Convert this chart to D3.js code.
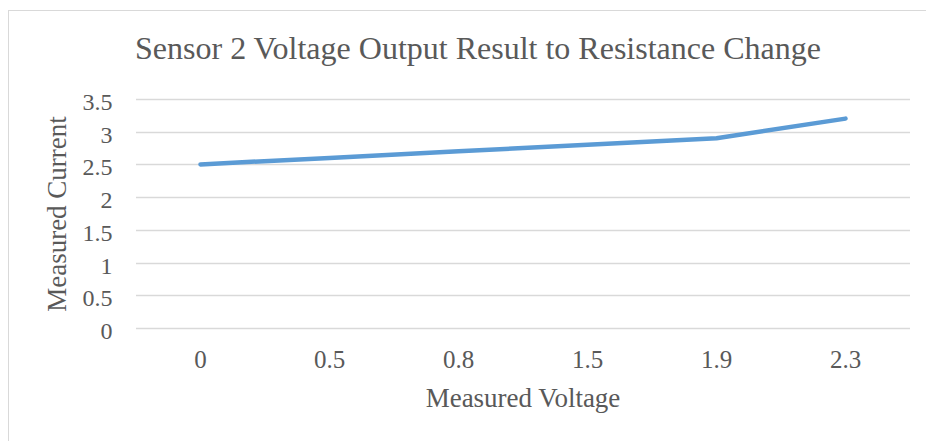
<!DOCTYPE html>
<html><head><meta charset="utf-8">
<script src="https://cdn.jsdelivr.net/npm/d3@7"></script>
<style>body{margin:0;background:#fff}svg{display:block}</style>
</head><body>
<svg id="c" width="926" height="441"></svg>
<script>
const categories = ["0", "0.5", "0.8", "1.5", "1.9", "2.3"];
const values = [2.5, 2.6, 2.7, 2.8, 2.9, 3.2];
const yTicks = [0, 0.5, 1, 1.5, 2, 2.5, 3, 3.5];
const title = "Sensor 2 Voltage Output Result to Resistance Change";
const xTitle = "Measured Voltage";
const yTitle = "Measured Current";

const svg = d3.select("#c");
const font = "'Liberation Serif','Times New Roman',serif";
const txt = "#595959";
svg.append("rect").attr("x", 8.5).attr("y", 10.5).attr("width", 930).attr("height", 440)
  .attr("fill", "#fff").attr("stroke", "#d9d9d9");

const x = d3.scaleBand().domain(categories).range([136, 910]);
const y = d3.scaleLinear().domain([0, 3.5]).range([328, 99]);

const grid = svg.append("g");
grid.selectAll("line").data(yTicks).join("line")
  .attr("x1", 136).attr("x2", 910)
  .attr("y1", d => Math.round(y(d)) + 0.5).attr("y2", d => Math.round(y(d)) + 0.5)
  .attr("stroke", "#d9d9d9").attr("stroke-width", 1.3);

const yAxis = d3.axisLeft(y).tickValues(yTicks).tickSize(0).tickPadding(0).tickFormat(d => String(d));
const ya = svg.append("g").attr("transform", "translate(112.5,0)").call(yAxis);
ya.select(".domain").remove();
ya.selectAll("text").attr("font-family", font).attr("font-size", 24).attr("fill", txt).attr("dy", "0.44em");

const xAxis = d3.axisBottom(x).tickSize(0).tickPadding(0);
const xa = svg.append("g").attr("transform", "translate(0,368)").call(xAxis);
xa.select(".domain").remove();
xa.selectAll("text").attr("font-family", font).attr("font-size", 25).attr("fill", txt).attr("dy", "0");

const line = d3.line().x(d => x(d.c) + x.bandwidth() / 2).y(d => y(d.v));
svg.append("path").datum(categories.map((c, i) => ({c, v: values[i]})))
  .attr("d", line).attr("fill", "none").attr("stroke", "#5B9BD5")
  .attr("stroke-width", 4.5).attr("stroke-linecap", "round").attr("stroke-linejoin", "round");

svg.append("text").attr("x", 478).attr("y", 59).attr("text-anchor", "middle")
  .attr("font-family", font).attr("font-size", 32).attr("fill", txt).text(title);
svg.append("text").attr("x", 523).attr("y", 407).attr("text-anchor", "middle")
  .attr("font-family", font).attr("font-size", 27).attr("fill", txt).text(xTitle);
svg.append("text").attr("transform", "translate(66,214) rotate(-90)").attr("text-anchor", "middle")
  .attr("font-family", font).attr("font-size", 27).attr("fill", txt).text(yTitle);
</script>
</body></html>
